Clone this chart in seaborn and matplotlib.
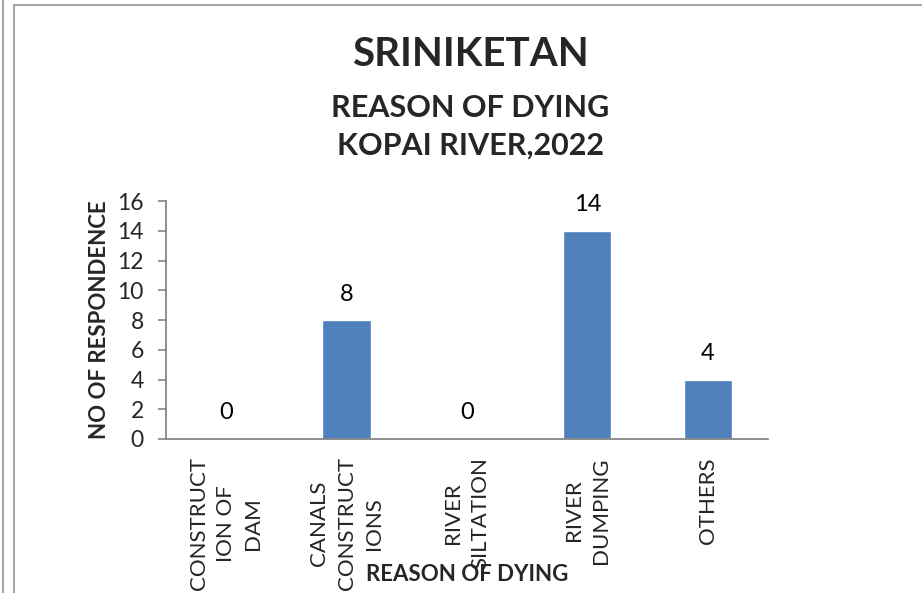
import matplotlib
matplotlib.use("Agg")
import matplotlib.pyplot as plt
from matplotlib.lines import Line2D
import seaborn as sns
import pandas as pd

# Survey data
categories = ["CONSTRUCT\nION OF\nDAM", "CANALS\nCONSTRUCT\nIONS", "RIVER\nSILTATION",
              "RIVER\nDUMPING", "OTHERS"]
respondents = [0, 8, 0, 14, 4]
y_ticks = [0, 2, 4, 6, 8, 10, 12, 14, 16]

title_main = "SRINIKETAN"
title_lines = ["REASON OF DYING", "KOPAI RIVER,2022"]
x_label = "REASON OF DYING"
y_label = "NO OF RESPONDENCE"

sns.set_theme(style="white")
plt.rcParams["font.family"] = ["Lato", "DejaVu Sans"]

df = pd.DataFrame({"reason": categories, "count": respondents})

fig = plt.figure(figsize=(9.22, 5.93), dpi=100)
ax = fig.add_axes([0.180, 0.2597, 0.653, 0.4013])

sns.barplot(data=df, x="reason", y="count", color="#4F81BD", width=0.4,
            saturation=1, ax=ax)

ax.set_ylim(0, 16)
ax.set_xlim(-0.5, len(categories) - 0.5)
ax.set_yticks(y_ticks)
ax.set_yticklabels([str(t) for t in y_ticks], fontsize=16.5)
ax.set_xticks(range(len(categories)))
ax.set_xticklabels(categories, rotation=90, fontsize=16, ha="center",
                   va="top", multialignment="center", linespacing=1.45)

for side in ("top", "right"):
    ax.spines[side].set_visible(False)
for side in ("left", "bottom"):
    ax.spines[side].set_color("#868686")
    ax.spines[side].set_linewidth(1.3)

ax.tick_params(axis="y", direction="out", length=6, width=1.2, color="#868686",
               pad=10, left=True)
ax.tick_params(axis="x", length=0, pad=13)

# value labels above each bar
for i, v in enumerate(respondents):
    ax.annotate(str(v), xy=(i, v), xytext=(0, 26), textcoords="offset pixels",
                ha="center", va="center", fontsize=17, color="black")

ax.set_ylabel(y_label, fontsize=16, fontweight="bold")
ax.yaxis.set_label_coords(-0.11, 0.5)
ax.yaxis.label.set_va("center")
ax.set_xlabel(x_label, fontsize=16, fontweight="bold")
ax.xaxis.set_label_coords(0.5, -0.571)
ax.xaxis.label.set_va("center")

fig.text(0.510, 1 - 55 / 593, title_main, ha="center", va="center", fontsize=29,
         fontweight="bold")
fig.text(0.510, 1 - 108 / 593, title_lines[0], ha="center", va="center", fontsize=22,
         fontweight="bold")
fig.text(0.510, 1 - 146 / 593, title_lines[1], ha="center", va="center", fontsize=22,
         fontweight="bold")

# chart border
border = "#a6a6a6"
fig.add_artist(Line2D([14 / 922, 14 / 922], [0, 1 - 5 / 593], transform=fig.transFigure,
                      color=border, lw=1.5))
fig.add_artist(Line2D([14 / 922, 1], [1 - 5 / 593, 1 - 5 / 593], transform=fig.transFigure,
                      color=border, lw=1.5))
fig.add_artist(Line2D([2.5 / 922, 2.5 / 922], [0, 1], transform=fig.transFigure,
                      color=border, lw=1.5))

fig.savefig("out.png", dpi=100, facecolor="white")
